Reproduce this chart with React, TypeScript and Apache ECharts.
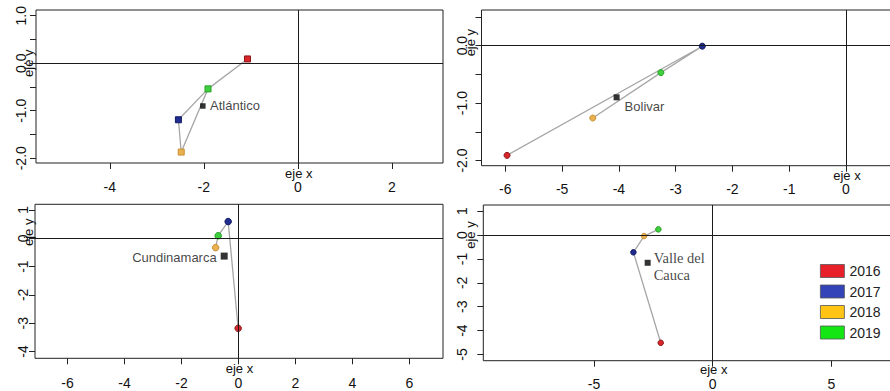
import React, { useEffect, useRef } from "react";
import * as echarts from "echarts";

// ---------- data ----------
const years = ["2016", "2017", "2018", "2019"];

// Atlántico (values by year 2016..2019)
const atlanticoX = [-1.07, -2.54, -2.48, -1.91];
const atlanticoY = [0.09, -1.19, -1.87, -0.54];
const atlanticoCentroid = [-2.02, -0.9];
const atlanticoPath = [0, 3, 1, 2, 3];

// Bolivar
const bolivarX = [-5.97, -2.53, -4.46, -3.26];
const bolivarY = [-1.91, -0.01, -1.26, -0.47];
const bolivarCentroid = [-4.04, -0.9];
const bolivarPath = [0, 1, 3, 2];

// Cundinamarca
const cundinamarcaX = [-0.01, -0.36, -0.8, -0.71];
const cundinamarcaY = [-3.18, 0.59, -0.33, 0.09];
const cundinamarcaCentroid = [-0.5, -0.63];
const cundinamarcaPath = [2, 3, 1, 0];

// Valle del Cauca
const valleX = [-2.19, -3.34, -2.89, -2.29];
const valleY = [-4.51, -0.72, -0.04, 0.24];
const valleCentroid = [-2.74, -1.16];
const vallePath = [3, 2, 1, 0];

// axis limits
const xLimits = [
  [-5.57, 3.09],
  [-6.42, 0.82],
  [-7.14, 7.18],
  [-9.66, 7.56],
];
const yLimits = [
  [-2.1, 1.12],
  [-2.09, 0.62],
  [-4.24, 1.2],
  [-5.26, 1.26],
];

// tick values
const xTicks1 = [-4, -2, 0, 2];
const xTicks2 = [-6, -5, -4, -3, -2, -1, 0];
const xTicks3 = [-6, -4, -2, 0, 2, 4, 6];
const xTicks4 = [-5, 0, 5];
const yTicks1 = [-2, -1.5, -1, -0.5, 0, 0.5, 1];
const yLabels1 = [-2, -1, 0, 1];
const yTicks2 = [-2, -1.5, -1, -0.5, 0, 0.5];
const yLabels2 = [-2, -1, 0];
const yTicks3 = [-4, -3, -2, -1, 0, 1];
const yTicks4 = [-5, -4, -3, -2, -1, 0, 1];

// ---------- styles ----------
const FONT = '"Liberation Sans", Arial, Helvetica, sans-serif';
const SERIF = '"Liberation Serif", "Times New Roman", Times, serif';
const pointColors = ["#d8262b", "#202c90", "#e8b050", "#3fcf3f"];
const pointEdges = ["#8a1418", "#101a60", "#c89030", "#22a022"];
const legendColors = ["#e8202a", "#3343b8", "#ffc414", "#14e614"];

type Panel = {
  label: string;
  xs: number[];
  ys: number[];
  centroid: number[];
  path: number[];
  xTicks: number[];
  yTicks: number[];
  yLabels: number[];
  yDecimals: number;
  grid: { left: number; top: number; width: number; height: number };
  symbol: string;
  symbolSize: number;
  centroidSize: number;
  labelCfg: any;
  xMargin: number;
  yMargin: number;
  ejeXdy: number;
  ejeYdx: number;
  ejeYdy: number;
};

const panels: Panel[] = [
  {
    label: "Atlántico",
    xs: atlanticoX,
    ys: atlanticoY,
    centroid: atlanticoCentroid,
    path: atlanticoPath,
    xTicks: xTicks1,
    yTicks: yTicks1,
    yLabels: yLabels1,
    yDecimals: 1,
    grid: { left: 36, top: 10, width: 407, height: 153 },
    symbol: "rect",
    symbolSize: 6,
    centroidSize: 5.5,
    labelCfg: { position: "right", distance: 4.5, fontFamily: FONT, fontSize: 13 },
    xMargin: 17,
    yMargin: 8,
    ejeXdy: 10,
    ejeYdx: 7.7,
    ejeYdy: 0,
  },
  {
    label: "Bolivar",
    xs: bolivarX,
    ys: bolivarY,
    centroid: bolivarCentroid,
    path: bolivarPath,
    xTicks: xTicks2,
    yTicks: yTicks2,
    yLabels: yLabels2,
    yDecimals: 1,
    grid: { left: 481.5, top: 10, width: 411, height: 155.7 },
    symbol: "circle",
    symbolSize: 6,
    centroidSize: 6,
    labelCfg: { position: "right", distance: 5, offset: [0, 9], fontFamily: FONT, fontSize: 13 },
    xMargin: 16.5,
    yMargin: 12.5,
    ejeXdy: 9.3,
    ejeYdx: 11,
    ejeYdy: -3,
  },
  {
    label: "Cundinamarca",
    xs: cundinamarcaX,
    ys: cundinamarcaY,
    centroid: cundinamarcaCentroid,
    path: cundinamarcaPath,
    xTicks: xTicks3,
    yTicks: yTicks3,
    yLabels: yTicks3,
    yDecimals: 0,
    grid: { left: 35, top: 204.3, width: 408, height: 154 },
    symbol: "circle",
    symbolSize: 6.5,
    centroidSize: 7,
    labelCfg: { position: "left", distance: 4, offset: [0, 1], fontFamily: FONT, fontSize: 13 },
    xMargin: 17.3,
    yMargin: 5.5,
    ejeXdy: 10,
    ejeYdx: 7,
    ejeYdy: -6,
  },
  {
    label: "Valle del\nCauca",
    xs: valleX,
    ys: valleY,
    centroid: valleCentroid,
    path: vallePath,
    xTicks: xTicks4,
    yTicks: yTicks4,
    yLabels: yTicks4,
    yDecimals: 0,
    grid: { left: 483.3, top: 205, width: 409, height: 155.7 },
    symbol: "circle",
    symbolSize: 5.5,
    centroidSize: 6,
    labelCfg: {
      position: "right",
      distance: 3,
      offset: [0, 4],
      fontFamily: SERIF,
      fontSize: 14.5,
      lineHeight: 17,
      align: "left",
    },
    xMargin: 16.5,
    yMargin: 14,
    ejeXdy: 8.3,
    ejeYdx: 12.6,
    ejeYdy: 0,
  },
];

function buildOption() {
  const grid: any[] = [];
  const xAxis: any[] = [];
  const yAxis: any[] = [];
  const series: any[] = [];

  panels.forEach((p, i) => {
    grid.push({
      ...p.grid,
      show: true,
      borderColor: "#222",
      borderWidth: 1,
      backgroundColor: "transparent",
      containLabel: false,
      outerBoundsMode: "none",
    });
    xAxis.push({
      type: "value",
      gridIndex: i,
      min: xLimits[i][0],
      max: xLimits[i][1],
      position: "bottom",
      axisLine: { show: false, onZero: false },
      axisTick: {
        show: true,
        inside: false,
        length: 6,
        customValues: p.xTicks,
        lineStyle: { color: "#222", width: 1 },
      },
      axisLabel: {
        customValues: p.xTicks,
        margin: p.xMargin,
        fontSize: 14,
        lineHeight: 14,
        fontFamily: FONT,
        color: "#111",
        formatter: (v: number) => String(v),
      },
      splitLine: { show: false },
    });
    yAxis.push({
      type: "value",
      gridIndex: i,
      min: yLimits[i][0],
      max: yLimits[i][1],
      position: "left",
      axisLine: { show: false, onZero: false },
      axisTick: {
        show: true,
        inside: false,
        length: 6,
        customValues: p.yTicks,
        lineStyle: { color: "#222", width: 1 },
      },
      axisLabel: {
        customValues: p.yLabels,
        rotate: 90,
        margin: p.yMargin,
        fontSize: 14,
        fontFamily: FONT,
        color: "#111",
        formatter: (v: number) => Number(v).toFixed(p.yDecimals),
      },
      splitLine: { show: false },
    });

    series.push({
      type: "line",
      xAxisIndex: i,
      yAxisIndex: i,
      data: p.path.map((k) => [p.xs[k], p.ys[k]]),
      symbol: "none",
      silent: true,
      z: 2,
      lineStyle: { color: "#a6a6a6", width: 1.3 },
      markLine: {
        silent: true,
        symbol: "none",
        label: { show: false },
        lineStyle: { color: "#1a1a1a", width: 1, type: "solid" },
        data: [{ xAxis: 0 }, { yAxis: 0 }],
      },
    });

    years.forEach((y, j) => {
      series.push({
        type: "scatter",
        name: y,
        xAxisIndex: i,
        yAxisIndex: i,
        data: [[p.xs[j], p.ys[j]]],
        symbol: p.symbol,
        symbolSize: p.symbolSize,
        z: 3,
        itemStyle: { color: pointColors[j], borderColor: pointEdges[j], borderWidth: 1, opacity: 1 },
      });
    });

    series.push({
      type: "scatter",
      name: "centroid" + i,
      xAxisIndex: i,
      yAxisIndex: i,
      data: [[p.centroid[0], p.centroid[1]]],
      symbol: "rect",
      symbolSize: p.centroidSize,
      z: 4,
      itemStyle: { color: "#000" },
      label: {
        show: true,
        formatter: p.label,
        color: "#111",
        ...p.labelCfg,
      },
    });
  });

  return {
    animation: false,
    backgroundColor: "#ffffff",
    grid,
    xAxis,
    yAxis,
    series,
    legend: {
      orient: "vertical",
      left: 815,
      top: 259,
      itemWidth: 24,
      itemHeight: 13,
      itemGap: 6.5,
      icon: "rect",
      selectedMode: false,
      textStyle: { fontSize: 14, fontFamily: FONT, color: "#222" },
      data: years.map((y, j) => ({
        name: y,
        itemStyle: { color: legendColors[j], borderColor: "#555", borderWidth: 0.8 },
      })),
    },
  };
}

export default function App() {
  const ref = useRef<HTMLDivElement>(null);
  useEffect(() => {
    if (!ref.current) return;
    const chart = echarts.init(ref.current, undefined, { renderer: "svg" });
    chart.setOption(buildOption() as any);

    const graphics: any[] = [];
    panels.forEach((p, i) => {
      const bottom = chart.convertToPixel({ gridIndex: i } as any, [0, yLimits[i][0]]) as number[];
      const left = chart.convertToPixel({ gridIndex: i } as any, [xLimits[i][0], 0]) as number[];
      graphics.push({
        type: "text",
        x: bottom[0] + 1,
        y: bottom[1] + p.ejeXdy,
        style: {
          text: "eje x",
          fontSize: 13,
          lineHeight: 13,
          fontFamily: FONT,
          fill: "#111",
          align: "center",
          verticalAlign: "middle",
        },
        silent: true,
      });
      graphics.push({
        type: "text",
        x: left[0] - p.ejeYdx,
        y: left[1] + p.ejeYdy,
        rotation: Math.PI / 2,
        style: {
          text: "eje y",
          fontSize: 13,
          fontFamily: FONT,
          fill: "#111",
          align: "center",
          verticalAlign: "middle",
        },
        silent: true,
      });
    });
    chart.setOption({ graphic: graphics } as any);

    return () => chart.dispose();
  }, []);
  return (
    <div
      ref={ref}
      style={{ position: "absolute", left: 0, top: 0, width: 890, height: 391, background: "#fff" }}
    />
  );
}
